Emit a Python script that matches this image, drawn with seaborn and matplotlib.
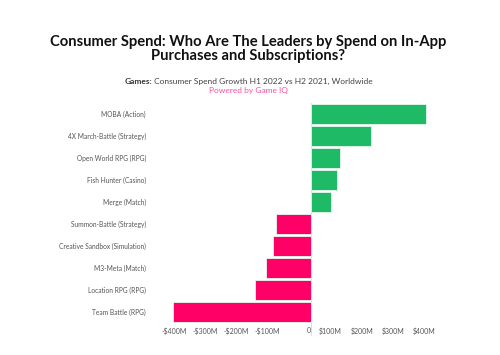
import matplotlib
matplotlib.use("Agg")
import matplotlib.pyplot as plt
import seaborn as sns
import pandas as pd

categories = ["MOBA (Action)", "4X March-Battle (Strategy)", "Open World RPG (RPG)",
              "Fish Hunter (Casino)", "Merge (Match)", "Summon-Battle (Strategy)",
              "Creative Sandbox (Simulation)", "M3-Meta (Match)", "Location RPG (RPG)",
              "Team Battle (RPG)"]
growth_musd = [371, 194, 94, 84, 65, -113, -123, -145, -181, -445]
tick_values = [-400, -300, -200, -100, 0, 100, 200, 300, 400]
tick_labels = ["-$400M", "-$300M", "-$200M", "-$100M", "0", "$100M", "$200M", "$300M", "$400M"]

sns.set_theme(style="white")
plt.rcParams['font.family'] = ['Lato', 'DejaVu Sans']

df = pd.DataFrame({"cat": categories, "val": growth_musd})
df["sign"] = ["pos" if v >= 0 else "neg" for v in df["val"]]

fig = plt.figure(figsize=(5, 3.55), dpi=100)
ax = fig.add_axes([0.343, 0.090, 0.527, 0.620])

sns.barplot(data=df, y="cat", x="val", hue="sign", orient="h",
            palette={"pos": "#1FBA65", "neg": "#FF0066"}, width=0.9, saturation=1,
            edgecolor="#e6f7ee", linewidth=0.6, legend=False, ax=ax, dodge=False)

ax.set_xlim(-450, 400)
ax.set_ylim(9.5, -0.5)
ax.set_xticks(tick_values)
ax.set_xticklabels(tick_labels, ha="right")
ax.tick_params(axis="x", labelsize=5.0, colors="#555555", length=0, pad=3)
ax.tick_params(axis="y", labelsize=4.8, colors="#555555", length=0, pad=18.5)
ax.set_xlabel("")
ax.set_ylabel("")
for s in ax.spines.values():
    s.set_visible(False)
ax.axvline(0, ymin=-0.055, ymax=1.0, color="#dddddd", linewidth=0.8, clip_on=False, zorder=0)

fig.text(0.497, 0.882, "Consumer Spend: Who Are The Leaders by Spend on In-App",
         ha="center", va="center", fontsize=10.6, fontweight="bold", color="#111111")
fig.text(0.497, 0.843, "Purchases and Subscriptions?",
         ha="center", va="center", fontsize=10.6, fontweight="bold", color="#111111")

# subtitle with bold prefix, centred as a whole
t1 = fig.text(0, 0.771, "Games:", ha="left", va="center", fontsize=6.0,
              fontweight="bold", color="#333333")
t2 = fig.text(0, 0.771, " Consumer Spend Growth H1 2022 vs H2 2021, Worldwide",
              ha="left", va="center", fontsize=6.0, color="#444444")
fig.canvas.draw()
r = fig.canvas.get_renderer()
w1 = t1.get_window_extent(r).width / fig.bbox.width
w2 = t2.get_window_extent(r).width / fig.bbox.width
x0 = 0.497 - (w1 + w2) / 2
t1.set_x(x0)
t2.set_x(x0 + w1)
fig.text(0.497, 0.745, "Powered by Game IQ", ha="center", va="center",
         fontsize=6.0, color="#FF4FA0")

fig.savefig("out.png", dpi=100, facecolor="white")
